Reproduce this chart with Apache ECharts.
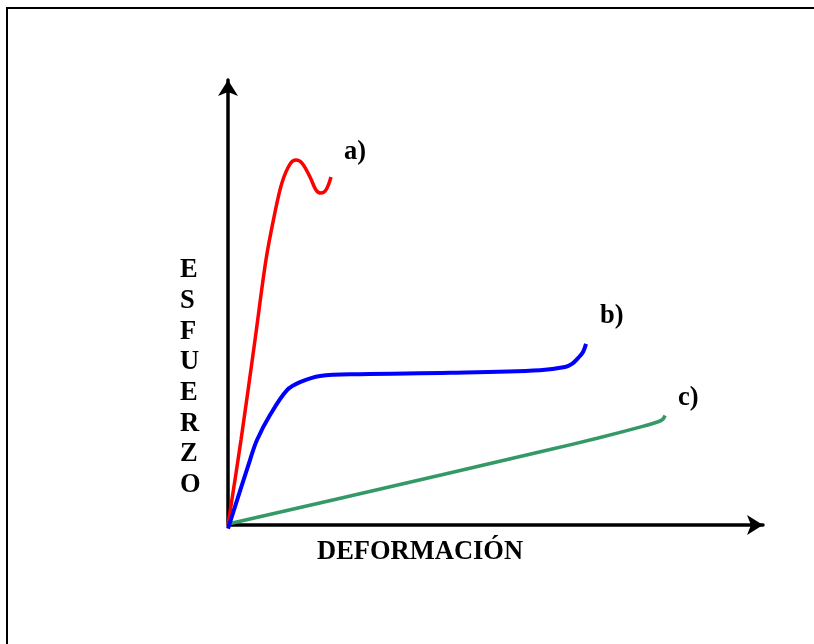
<!DOCTYPE html>
<html><head><meta charset="utf-8">
<script src="https://cdn.jsdelivr.net/npm/echarts@6/dist/echarts.min.js"></script>
<style>html,body{margin:0;padding:0;background:#fff}#c{width:814px;height:644px}</style>
</head><body><div id="c"></div>
<script>
// Curve a) red
const curveA = [[0,0],[2.43,19.1],[5.05,41.6],[7.1,59.6],[8.6,69.2],[10.09,76.9],[11.59,81.1],[12.71,82.0],[13.83,81.3],[15.33,78.2],[16.45,75.3],[17.38,74.6],[18.32,75.3],[19.25,78.2]];
// Curve b) blue
const curveB = [[0,-0.8],[4.11,14.6],[5.42,19.1],[7.85,24.7],[11.03,30.3],[13.46,32.1],[17.2,33.5],[24.67,33.9],[41.5,34.2],[58.32,34.8],[62.99,35.5],[64.3,36.2],[65.42,37.5],[66.36,38.9],[66.92,40.7]];
// Curve c) green
const curveC = [[-1.12,0],[0,0.22],[40,11.3],[60,16.9],[69,19.5],[77,22.0],[80.4,23.2],[81.3,23.8],[81.7,24.6]];
const seriesNames = ['a)','b)','c)'];
const yTitle = ['E','S','F','U','E','R','Z','O'];
const xTitle = 'DEFORMACIÓN';

const FONT = '"Liberation Serif", "Times New Roman", serif';
const FS = 26.5;
const chart = echarts.init(document.getElementById('c'));
function lbl(offset){
  return {show:true, formatter:'{a}', offset:offset, distance:5,
    color:'#000', fontFamily:FONT, fontWeight:'bold', fontSize:FS};
}
chart.setOption({
  backgroundColor:'#fff',
  animation:false,
  graphic:[
    {type:'rect', shape:{x:7,y:8,width:900,height:800}, style:{fill:null, stroke:'#000', lineWidth:2}, silent:true, z:-1},
    {type:'text', left:180, top:255, style:{text:yTitle.join('\n'), align:'center', lineHeight:30.7, font:'bold '+FS+'px '+FONT, fill:'#000'}, z:10},
    {type:'text', left:317, top:539, style:{text:xTitle, font:'bold '+FS+'px '+FONT, fill:'#000'}}
  ],
  grid:{left:228, top:80, width:535, height:445, containLabel:false},
  xAxis:{type:'value', min:0, max:100, splitLine:{show:false}, axisTick:{show:false}, axisLabel:{show:false},
    axisLine:{show:true, onZero:false, lineStyle:{color:'#000', width:3.5}, symbol:['none','arrow'], symbolSize:[15,16]}},
  yAxis:{type:'value', min:0, max:100, splitLine:{show:false}, axisTick:{show:false}, axisLabel:{show:false},
    axisLine:{show:true, onZero:false, lineStyle:{color:'#000', width:3.5}, symbol:['none','arrow'], symbolSize:[15,16]}},
  series:[
    {name:seriesNames[0], type:'line', data:curveA, smooth:0.35, showSymbol:false, clip:false, lineStyle:{color:'#ff0000', width:3.5}, endLabel:lbl([8,-25]), z:3},
    {name:seriesNames[1], type:'line', data:curveB, smooth:0.35, showSymbol:false, clip:false, lineStyle:{color:'#0000ff', width:4}, endLabel:lbl([9,-28]), z:4},
    {name:seriesNames[2], type:'line', data:curveC, smooth:0.35, showSymbol:false, clip:false, lineStyle:{color:'#339966', width:3.5}, endLabel:lbl([8,-17]), z:2}
  ]
});
</script></body></html>
